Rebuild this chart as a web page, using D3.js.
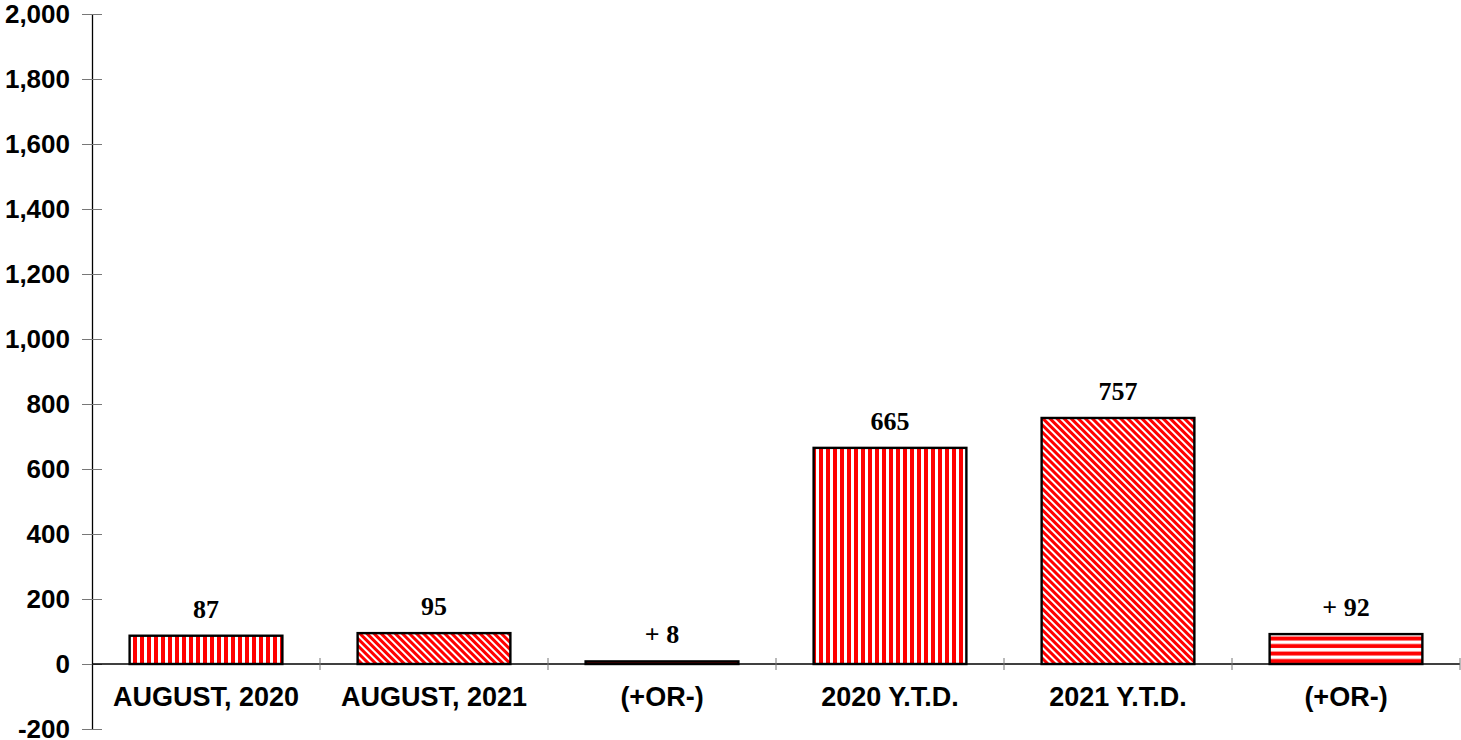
<!DOCTYPE html>
<html><head><meta charset="utf-8">
<script src="https://cdn.jsdelivr.net/npm/d3@7"></script>
<style>body{margin:0;background:#fff}</style>
</head><body>
<svg id="c" width="1461" height="740"></svg>
<script>
const categories = ["AUGUST, 2020","AUGUST, 2021","(+OR-)","2020 Y.T.D.","2021 Y.T.D.","(+OR-)"];
const values = [87, 95, 8, 665, 757, 92];
const valueLabels = ["87","95","+ 8","665","757","+ 92"];
const patterns = ["vert","diag","horiz","vert","diag","horiz"];
const yTicks = [-200,0,200,400,600,800,1000,1200,1400,1600,1800,2000];

const svg = d3.select("#c");
const x0 = 92, x1 = 1460;
const y = d3.scaleLinear().domain([-200, 2000]).range([729, 14]);
const x = d3.scaleBand().domain(d3.range(categories.length)).range([x0, x1]).paddingInner(0.33).paddingOuter(0.165);

const defs = svg.append("defs");
const pv = defs.append("pattern").attr("id","vert").attr("patternUnits","userSpaceOnUse").attr("width",7).attr("height",10);
pv.append("rect").attr("width",7).attr("height",10).attr("fill","#fff");
pv.append("rect").attr("x",0).attr("width",4).attr("height",10).attr("fill","#ff0000");
const pd = defs.append("pattern").attr("id","diag").attr("patternUnits","userSpaceOnUse").attr("width",5).attr("height",10).attr("patternTransform","rotate(-45)");
pd.append("rect").attr("width",5).attr("height",10).attr("fill","#fff");
pd.append("rect").attr("width",3).attr("height",10).attr("fill","#ff0000");
const ph = defs.append("pattern").attr("id","horiz").attr("patternUnits","userSpaceOnUse").attr("width",10).attr("height",7.5).attr("y",y(0));
ph.append("rect").attr("width",10).attr("height",7.5).attr("fill","#fff");
ph.append("rect").attr("y",2.5).attr("width",10).attr("height",4).attr("fill","#ff0000");

// y axis
const fmt = d3.format(",");
const yAxis = d3.axisLeft(y).tickValues(yTicks).tickSize(0).tickPadding(0).tickFormat(d => fmt(d).replace("−","-"));
const gy = svg.append("g").attr("transform",`translate(${x0},0)`).call(yAxis);
gy.select(".domain").attr("stroke","#000").attr("stroke-width",1.3);
gy.selectAll(".tick text").attr("x",-22).attr("dy","0.34em")
  .style("font-family","'Liberation Sans', Arial, sans-serif").style("font-weight","bold").style("font-size","26px").attr("fill","#000");
gy.selectAll(".tick").append("line").attr("x1",-10).attr("x2",10).attr("stroke","#777").attr("stroke-width",1);

// x axis line at 0
svg.append("line").attr("x1",x0).attr("x2",x1).attr("y1",y(0)).attr("y2",y(0)).attr("stroke","#000").attr("stroke-width",1.3);
const bounds = d3.range(1, categories.length+1).map(i => x0 + (x1-x0)*i/categories.length);
svg.selectAll(".xt").data(bounds).enter().append("line")
  .attr("x1",d=>d).attr("x2",d=>d).attr("y1",y(0)-6).attr("y2",y(0)+6).attr("stroke","#777");

// bars
svg.selectAll(".bar").data(values).enter().append("rect")
  .attr("x",(d,i)=>x(i)).attr("width",x.bandwidth())
  .attr("y",d=>y(d)).attr("height",d=>y(0)-y(d))
  .attr("fill",(d,i)=>`url(#${patterns[i]})`).attr("stroke","#000").attr("stroke-width",2.4);

// value labels
svg.selectAll(".vl").data(values).enter().append("text")
  .attr("x",(d,i)=>x(i)+x.bandwidth()/2).attr("y",d=>y(d)-18)
  .attr("text-anchor","middle")
  .style("font-family","'Liberation Serif', 'Times New Roman', serif").style("font-weight","bold").style("font-size","26px")
  .text((d,i)=>valueLabels[i]);

// category labels
svg.selectAll(".cl").data(categories).enter().append("text")
  .attr("x",(d,i)=>x(i)+x.bandwidth()/2).attr("y",706)
  .attr("text-anchor","middle")
  .style("font-family","'Liberation Sans', Arial, sans-serif").style("font-weight","bold").style("font-size","27px")
  .text(d=>d);
</script>
</body></html>
